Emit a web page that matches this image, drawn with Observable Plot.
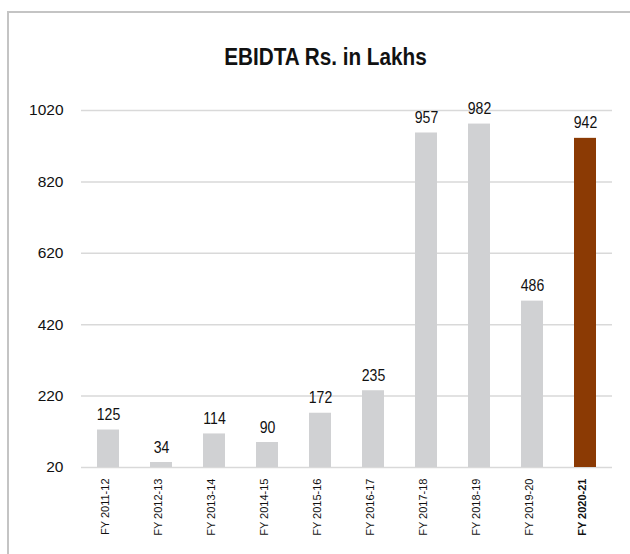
<!DOCTYPE html>
<html>
<head>
<meta charset="utf-8">
<script src="https://cdn.jsdelivr.net/npm/d3@7"></script>
<script src="https://cdn.jsdelivr.net/npm/@observablehq/plot@0.6"></script>
<style>
  html, body { margin: 0; padding: 0; background: #fff; }
  #page { position: relative; width: 630px; height: 554px; overflow: hidden; }
  #frame { position: absolute; left: 7px; top: 11px; width: 640px; height: 560px; border: 2px solid #c4c4c4; box-sizing: border-box; }
  #titlewrap { position: absolute; left: 0; top: 45.5px; width: 650px; text-align: center; }
  #title { display: inline-block; transform: scaleX(0.9); transform-origin: 50% 50%;
           font-family: "Liberation Sans", Arial, sans-serif; line-height: 1;
           font-weight: bold; font-size: 23px; color: #111; }
  #chart { position: absolute; left: 0; top: 80px; }
</style>
</head>
<body>
<div id="page">
  <div id="frame"></div>
  <div id="titlewrap"><span id="title">EBIDTA Rs. in Lakhs</span></div>
  <div id="chart"></div>
</div>
<script>
const years = ["FY 2011-12","FY 2012-13","FY 2013-14","FY 2014-15","FY 2015-16","FY 2016-17","FY 2017-18","FY 2018-19","FY 2019-20","FY 2020-21"];
const ebidta = [125, 34, 114, 90, 172, 235, 957, 982, 486, 942];
const yTicks = [20, 220, 420, 620, 820, 1020];
const highlight = "FY 2020-21";

const data = years.map((y, i) => ({year: y, value: ebidta[i]}));
const font = '"Liberation Sans", Arial, sans-serif';

const chart = Plot.plot({
  width: 630,
  height: 474,
  marginTop: 30,
  marginBottom: 87,
  marginLeft: 81,
  marginRight: 18,
  style: {fontFamily: font, fontSize: "15px", color: "#111", background: "transparent"},
  x: {domain: years, paddingInner: 0.585, paddingOuter: 0.29, axis: null},
  y: {domain: [20, 1020], axis: null},
  marks: [
    Plot.ruleY(yTicks, {stroke: "#d9d9d9", strokeWidth: 1.5}),
    Plot.barY(data, {x: "year", y1: 20, y2: "value", fill: d => d.year === highlight ? "#8b3a04" : "#d0d1d3"}),
    Plot.text(data, {x: "year", y: "value", text: d => String(d.value), dy: -15, fontSize: 16, fill: "#111", className: "narrow"}),
    Plot.text(data.filter(d => d.year !== highlight), {x: "year", frameAnchor: "bottom", text: "year", rotate: -90, textAnchor: "end", dy: 11, fontSize: 11, fill: "#111"}),
    Plot.text(data.filter(d => d.year === highlight), {x: "year", frameAnchor: "bottom", text: "year", rotate: -90, textAnchor: "end", dy: 11, fontSize: 11, fontWeight: "bold", fill: "#111"}),
    Plot.axisY({ticks: yTicks, tickFormat: d => String(d), tickSize: 0, tickPadding: 18, fontSize: 15.5, label: null})
  ]
});
document.getElementById("chart").appendChild(chart);

// condense the value labels horizontally (narrow typeface look), anchored at each label's own point
chart.querySelectorAll("g.narrow text").forEach(t => {
  const xa = parseFloat(t.getAttribute("x"));
  const x = isFinite(xa) ? xa : 0;
  const tr = t.getAttribute("transform") || "";
  t.setAttribute("transform", `${tr} translate(${x},0) scale(0.88,1) translate(${-x},0)`.trim());
});
</script>
</body>
</html>
